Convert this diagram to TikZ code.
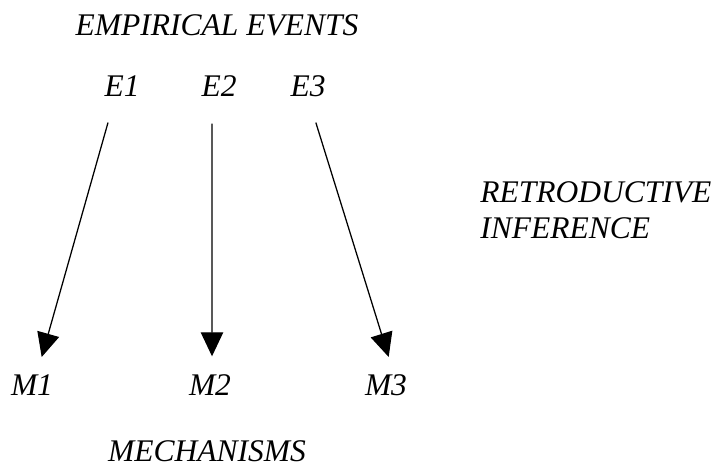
\documentclass[tikz,border=0pt]{standalone}
\usepackage{fontspec}
\setmainfont{Liberation Serif}
\usepackage{tikz}
\usetikzlibrary{arrows.meta,positioning}

\begin{document}
\begin{tikzpicture}[x=0.025cm, y=-0.025cm, every node/.style={font=\fontsize{22.4}{26}\selectfont\itshape, inner sep=0pt},
  infer/.style={-{Triangle[length=0.6cm,width=0.56cm]}, line width=0.9pt, shorten <=0.66cm, shorten >=0.45cm}]
  \useasboundingbox (0,0) rectangle (711,470);
  \node (emp) at (217,25.5) {EMPIRICAL EVENTS};
  \node (e1) at (122,86.5) {E1};
  \node (e2) at (219,86.5) {E2};
  \node (e3) at (308,86.5) {E3};
  \node (m1) at (32,385) {M1};
  \node (m2) at (210,385) {M2};
  \node (m3) at (386,385) {M3};
  \node (mech) at (207,451) {MECHANISMS};
  \node[anchor=west] (ret) at (480,192) {RETRODUCTIVE};
  \node[below=0.355cm of ret.south west, anchor=north west] (inf) {INFERENCE};
  \draw[infer] ([xshift=-0.17cm]e1.south) -- ([xshift=0.12cm]m1.north); \draw[infer] ([xshift=-0.175cm]e2.south) -- ([xshift=0.05cm]m2.north); \draw[infer] (e3.south) -- ([xshift=0.2cm]m3.north);
\end{tikzpicture}
\end{document}
